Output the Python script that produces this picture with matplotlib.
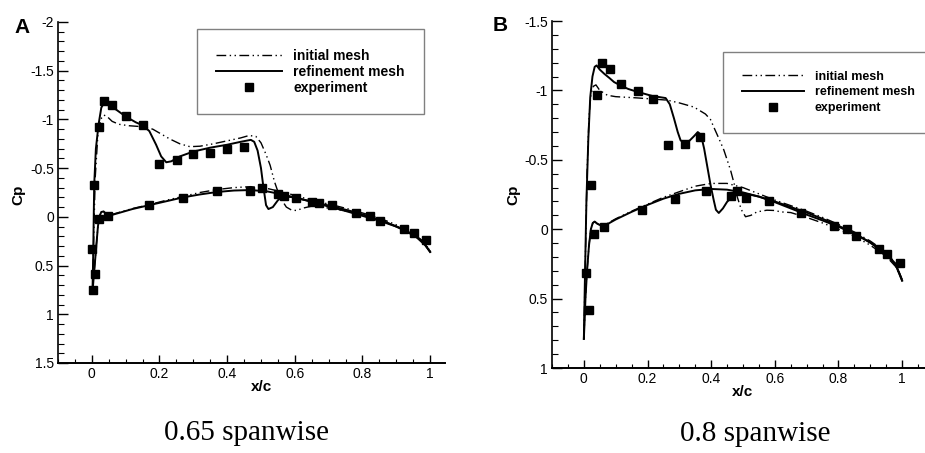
import numpy as np
import matplotlib
matplotlib.use("Agg")
import matplotlib.pyplot as plt
from matplotlib.ticker import MultipleLocator, FuncFormatter

plt.rcParams['font.family'] = ['Liberation Sans', 'DejaVu Sans']
plt.rcParams['axes.unicode_minus'] = False

# -------------------------------
#  Panel A - 0.65 spanwise
# -------------------------------
exp_x_a = [0.007, 0.02, 0.036, 0.060, 0.10, 0.15, 0.199, 0.251, 0.298, 0.35, 0.40, 0.449,
           0.503, 0.549, 0.569, 0.603, 0.652, 0.672, 0.711, 0.782, 0.822, 0.851, 0.922,
           0.951, 0.987, 0.002, 0.009, 0.001, 0.02, 0.049, 0.169, 0.27, 0.37, 0.468]
exp_cp_a = [-0.33, -0.92, -1.19, -1.15, -1.03, -0.94, -0.54, -0.585, -0.64, -0.66, -0.695, -0.72,
            -0.298, -0.233, -0.21, -0.195, -0.157, -0.137, -0.123, -0.037, -0.01, 0.04, 0.127,
            0.168, 0.24, 0.75, 0.59, 0.325, 0.024, -0.01, -0.12, -0.198, -0.267, -0.267]

ref_up_x_a = [0.002, 0.004, 0.007, 0.012, 0.02, 0.028, 0.036, 0.045, 0.06, 0.08, 0.1, 0.13, 0.15,
              0.17, 0.19, 0.205, 0.22, 0.235, 0.26, 0.3, 0.35, 0.4, 0.44, 0.47, 0.48, 0.49, 0.5,
              0.507, 0.515, 0.522, 0.535, 0.55, 0.565, 0.6, 0.65, 0.7, 0.75, 0.8, 0.85, 0.9,
              0.95, 0.98, 1.0]
ref_up_cp_a = [0.77, 0.4, -0.33, -0.7, -0.95, -1.12, -1.17, -1.16, -1.13, -1.08, -1.03, -0.97, -0.94,
               -0.88, -0.74, -0.62, -0.56, -0.57, -0.62, -0.67, -0.71, -0.74, -0.77, -0.79, -0.77,
               -0.68, -0.5, -0.31, -0.12, -0.08, -0.10, -0.17, -0.21, -0.2, -0.155, -0.105, -0.06,
               -0.01, 0.04, 0.1, 0.18, 0.26, 0.36]
ref_lo_x_a = [0.002, 0.006, 0.012, 0.018, 0.022, 0.028, 0.035, 0.042, 0.05, 0.08, 0.12, 0.17, 0.22,
              0.27, 0.32, 0.37, 0.42, 0.47, 0.52, 0.57, 0.62, 0.67, 0.72, 0.77, 0.82, 0.87, 0.92,
              0.96, 0.985, 1.0]
ref_lo_cp_a = [0.77, 0.6, 0.35, 0.1, 0.0, -0.05, -0.055, -0.03, -0.01, -0.04, -0.08, -0.12, -0.16,
               -0.2, -0.23, -0.255, -0.27, -0.275, -0.26, -0.225, -0.18, -0.14, -0.1, -0.055, -0.005,
               0.055, 0.13, 0.21, 0.29, 0.36]

ini_up_x_a = [0.002, 0.005, 0.01, 0.018, 0.026, 0.035, 0.045, 0.06, 0.08, 0.11, 0.15, 0.18, 0.2,
              0.23, 0.26, 0.29, 0.32, 0.36, 0.4, 0.44, 0.465, 0.485, 0.5, 0.515, 0.527, 0.54, 0.55,
              0.56, 0.575, 0.59, 0.605, 0.625, 0.65, 0.7, 0.75, 0.8, 0.85, 0.9, 0.95, 0.98, 1.0]
ini_up_cp_a = [0.77, 0.3, -0.4, -0.85, -1.0, -1.045, -1.03, -0.98, -0.95, -0.935, -0.925, -0.9, -0.86,
               -0.8, -0.75, -0.72, -0.725, -0.75, -0.78, -0.81, -0.835, -0.825, -0.76, -0.64, -0.53,
               -0.36, -0.26, -0.18, -0.1, -0.07, -0.065, -0.09, -0.11, -0.09, -0.06, -0.02, 0.035,
               0.095, 0.175, 0.25, 0.35]
ini_lo_x_a = [0.002, 0.006, 0.012, 0.018, 0.022, 0.028, 0.035, 0.042, 0.05, 0.08, 0.12, 0.17, 0.22,
              0.27, 0.32, 0.37, 0.42, 0.47, 0.52, 0.57, 0.62, 0.67, 0.72, 0.77, 0.82, 0.87, 0.92,
              0.96, 0.985, 1.0]
ini_lo_cp_a = [0.77, 0.6, 0.35, 0.1, 0.0, -0.05, -0.055, -0.03, -0.015, -0.045, -0.085, -0.125, -0.17,
               -0.21, -0.25, -0.28, -0.3, -0.31, -0.29, -0.25, -0.2, -0.155, -0.115, -0.07, -0.02,
               0.04, 0.11, 0.2, 0.28, 0.35]

# -------------------------------
#  Panel B - 0.8 spanwise
# -------------------------------
exp_x_b = [0.022, 0.04, 0.057, 0.082, 0.118, 0.169, 0.217, 0.264, 0.319, 0.366, 0.463, 0.482,
           0.511, 0.582, 0.682, 0.785, 0.827, 0.856, 0.927, 0.952, 0.992, 0.006, 0.015, 0.032,
           0.064, 0.184, 0.285, 0.385]
exp_cp_b = [-0.322, -0.965, -1.198, -1.155, -1.045, -0.994, -0.939, -0.61, -0.617, -0.668, -0.238,
            -0.276, -0.228, -0.204, -0.118, -0.024, 0.002, 0.048, 0.142, 0.175, 0.24, 0.315, 0.579,
            0.031, -0.017, -0.137, -0.221, -0.274]

ref_up_x_b = [0.0, 0.003, 0.008, 0.014, 0.02, 0.027, 0.034, 0.04, 0.05, 0.064, 0.08, 0.095, 0.12,
              0.14, 0.168, 0.215, 0.257, 0.27, 0.283, 0.295, 0.304, 0.318, 0.333, 0.346, 0.358,
              0.368, 0.378, 0.388, 0.398, 0.408, 0.415, 0.424, 0.437, 0.45, 0.471, 0.5, 0.55, 0.6,
              0.65, 0.7, 0.75, 0.8, 0.85, 0.9, 0.95, 0.98, 1.0]
ref_up_cp_b = [0.79, 0.4, -0.2, -0.65, -0.95, -1.1, -1.17, -1.18, -1.15, -1.12, -1.09, -1.06, -1.03,
               -1.01, -0.99, -0.96, -0.945, -0.9, -0.8, -0.7, -0.64, -0.62, -0.64, -0.67, -0.70,
               -0.68, -0.58, -0.45, -0.32, -0.21, -0.14, -0.117, -0.15, -0.197, -0.245, -0.26,
               -0.235, -0.195, -0.15, -0.105, -0.063, -0.018, 0.032, 0.097, 0.178, 0.26, 0.37]
ref_lo_x_b = [0.0, 0.005, 0.01, 0.016, 0.022, 0.028, 0.034, 0.042, 0.055, 0.065, 0.1, 0.15, 0.2,
              0.25, 0.3, 0.35, 0.4, 0.45, 0.5, 0.55, 0.6, 0.65, 0.7, 0.75, 0.8, 0.85, 0.9, 0.95,
              0.98, 1.0]
ref_lo_cp_b = [0.79, 0.5, 0.3, 0.12, 0.0, -0.045, -0.055, -0.04, -0.025, -0.025, -0.07, -0.125, -0.175,
               -0.22, -0.255, -0.28, -0.29, -0.285, -0.265, -0.235, -0.2, -0.16, -0.12, -0.075,
               -0.025, 0.03, 0.095, 0.175, 0.25, 0.37]

ini_up_x_b = [0.0, 0.004, 0.01, 0.016, 0.022, 0.03, 0.038, 0.05, 0.074, 0.1, 0.168, 0.262, 0.3,
              0.346, 0.382, 0.398, 0.408, 0.425, 0.44, 0.461, 0.472, 0.482, 0.495, 0.508, 0.525,
              0.544, 0.575, 0.6, 0.618, 0.65, 0.7, 0.75, 0.8, 0.85, 0.9, 0.95, 0.98, 1.0]
ini_up_cp_b = [0.79, 0.3, -0.4, -0.8, -0.97, -1.03, -1.04, -1.0, -0.965, -0.955, -0.946, -0.93, -0.91,
               -0.88, -0.83, -0.79, -0.737, -0.65, -0.57, -0.425, -0.33, -0.233, -0.14, -0.09, -0.1,
               -0.125, -0.137, -0.135, -0.125, -0.12, -0.085, -0.045, 0.0, 0.05, 0.115, 0.195,
               0.27, 0.36]
ini_lo_x_b = [0.0, 0.005, 0.01, 0.016, 0.022, 0.028, 0.034, 0.042, 0.055, 0.065, 0.1, 0.15, 0.2,
              0.25, 0.3, 0.35, 0.4, 0.45, 0.5, 0.55, 0.6, 0.65, 0.7, 0.75, 0.8, 0.85, 0.9, 0.95,
              0.98, 1.0]
ini_lo_cp_b = [0.79, 0.5, 0.3, 0.12, 0.0, -0.045, -0.055, -0.04, -0.025, -0.03, -0.075, -0.13, -0.18,
               -0.23, -0.27, -0.31, -0.33, -0.33, -0.3, -0.255, -0.21, -0.17, -0.13, -0.085, -0.035,
               0.02, 0.085, 0.165, 0.25, 0.36]

x_ticks = [0, 0.2, 0.4, 0.6, 0.8, 1]
labels = ['initial mesh', 'refinement mesh', 'experiment']

dashdotdot = (0, (7, 2.5, 1, 2.5, 1, 2.5))

fig = plt.figure(figsize=(9.25, 4.53), dpi=100)
ax_a = fig.add_axes([0.0627, 0.1987, 0.4184, 0.7528])
ax_b = fig.add_axes([0.5968, 0.1876, 0.4032, 0.7660])

fmt = FuncFormatter(lambda v, p: '%g' % v)


def draw_panel(ax, ini_up, ini_lo, ref_up, ref_lo, exp, xlim, ylim):
    l1, = ax.plot(ini_up[0], ini_up[1], color='black', lw=1.0, linestyle=dashdotdot)
    ax.plot(ini_lo[0], ini_lo[1], color='black', lw=1.0, linestyle=dashdotdot)
    l2, = ax.plot(ref_up[0], ref_up[1], color='black', lw=1.4)
    ax.plot(ref_lo[0], ref_lo[1], color='black', lw=1.4)
    l3, = ax.plot(exp[0], exp[1], 's', color='black', markersize=5.5, linestyle='none')
    ax.set_xlim(*xlim)
    ax.set_ylim(*ylim)
    for s in ['top', 'right']:
        ax.spines[s].set_visible(False)
    ax.spines['left'].set_linewidth(1.2)
    ax.spines['bottom'].set_linewidth(1.4)
    ax.set_xticks(x_ticks)
    ax.xaxis.set_minor_locator(MultipleLocator(0.05))
    ax.yaxis.set_major_locator(MultipleLocator(0.5))
    ax.yaxis.set_minor_locator(MultipleLocator(0.1))
    ax.xaxis.set_major_formatter(fmt)
    ax.yaxis.set_major_formatter(fmt)
    ax.tick_params(axis='y', which='major', direction='in', length=7.5, width=1, labelsize=10, pad=3)
    ax.tick_params(axis='y', which='minor', direction='in', length=4, width=0.8)
    ax.tick_params(axis='x', which='major', direction='in', length=5.5, width=1, labelsize=10, pad=3)
    ax.tick_params(axis='x', which='minor', direction='in', length=3, width=0.8)
    return [l1, l2, l3]


h_a = draw_panel(ax_a, (ini_up_x_a, ini_up_cp_a), (ini_lo_x_a, ini_lo_cp_a),
                 (ref_up_x_a, ref_up_cp_a), (ref_lo_x_a, ref_lo_cp_a),
                 (exp_x_a, exp_cp_a), (-0.1, 1.044), (1.5, -2))
h_b = draw_panel(ax_b, (ini_up_x_b, ini_up_cp_b), (ini_lo_x_b, ini_lo_cp_b),
                 (ref_up_x_b, ref_up_cp_b), (ref_lo_x_b, ref_lo_cp_b),
                 (exp_x_b, exp_cp_b), (-0.1, 1.072), (1, -1.5))

leg_a = ax_a.legend(h_a, labels, loc='upper left', bbox_to_anchor=(0.359, 0.979),
                    prop={'weight': 'bold', 'size': 10}, frameon=True, fancybox=False,
                    edgecolor='#808080', framealpha=1, borderpad=1.4, handlelength=4.7,
                    handletextpad=0.85, labelspacing=0.15, numpoints=1, borderaxespad=0)
leg_a.get_frame().set_linewidth(1.0)
leg_b = ax_b.legend(h_b, labels, loc='upper left', bbox_to_anchor=(0.458, 0.911),
                    prop={'weight': 'bold', 'size': 9}, frameon=True, fancybox=False,
                    edgecolor='#808080', framealpha=1, borderpad=1.5, handlelength=5.0,
                    handletextpad=0.85, labelspacing=0.3, numpoints=1, borderaxespad=0)
leg_b.get_frame().set_linewidth(1.0)

# axis labels, panel letters and captions
fig.text(0.2832, 0.1457, 'x/c', ha='center', va='center', fontsize=11, fontweight='bold')
fig.text(0.8032, 0.1347, 'x/c', ha='center', va='center', fontsize=11, fontweight='bold')
fig.text(0.0195, 0.5695, 'Cp', ha='center', va='center', rotation=90, fontsize=11, fontweight='bold')
fig.text(0.5546, 0.5695, 'Cp', ha='center', va='center', rotation=90, fontsize=11, fontweight='bold')
fig.text(0.0238, 0.9382, 'A', ha='center', va='center', fontsize=15, fontweight='bold')
fig.text(0.5405, 0.9448, 'B', ha='center', va='center', fontsize=15, fontweight='bold')
fig.text(0.266, 0.0442, '0.65 spanwise', ha='center', va='center', fontsize=21,
         family='Liberation Serif')
fig.text(0.8162, 0.042, '0.8 spanwise', ha='center', va='center', fontsize=21,
         family='Liberation Serif')

fig.savefig('out.png', dpi=100)
